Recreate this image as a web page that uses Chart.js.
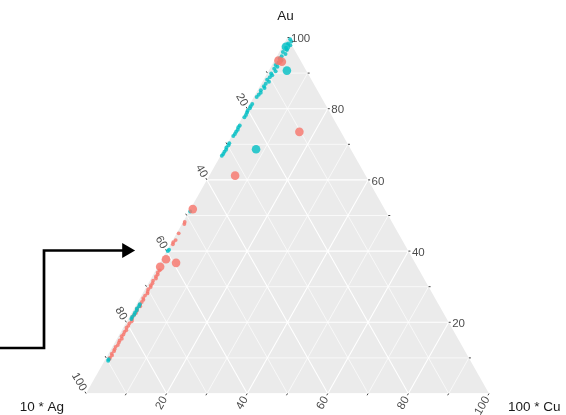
<!DOCTYPE html>
<html>
<head>
<meta charset="utf-8">
<title>Ternary plot Au / Ag / Cu</title>
<script src="https://cdn.jsdelivr.net/npm/chart.js@4.4.1/dist/chart.umd.min.js"></script>
<style>
  html, body { margin: 0; padding: 0; background: #fff; }
  #wrap { width: 566px; height: 415px; position: relative; }
</style>
</head>
<body>
<div id="wrap"><canvas id="tern"></canvas></div>
<script>
// Axis names and tick levels (percent)
const leftTitle = '10 * Ag';
const topTitle = 'Au';
const rightTitle = '100 * Cu';
const gridMajor = [20, 40, 60, 80];
const gridMinor = [10, 30, 50, 70, 90];
const tickLevels = [10, 20, 30, 40, 50, 60, 70, 80, 90, 100];
const labelLevels = [20, 40, 60, 80, 100];

// Group 1 (red) - larger markers, Au and Cu in percent (Ag = rest)
const redAu = [93.5, 93.2, 73.5, 61.2, 51.8, 37.7, 36.7, 35.6];
const redCu = [1.0, 2.0, 16.2, 6.4, 0.6, 1.0, 4.0, 0.6];
// Group 1 - samples lying on the Ag-Au side
const redEdgeAu = [48.2, 47.6, 45.0, 43.1, 42.5, 41.9,
  34.6, 34.0, 33.4, 32.9, 32.3, 31.7, 31.0, 30.4, 29.9, 29.3,
  28.6, 28.1, 27.5, 26.8, 26.3, 25.7, 25.0, 24.5, 23.8, 23.3,
  22.6, 22.1, 21.5, 20.8, 20.3, 19.7, 19.0, 18.5, 17.8, 17.3,
  16.6, 16.1, 15.4, 14.9, 14.3, 13.6, 13.1, 12.4, 11.9, 11.2,
  10.7, 10.1, 9.7];
const redEdgeCu = [0.4, 0.6, 0.5, 0.7, 0.4, 0.6,
  1.0, 0.8, 1.1, 0.9, 1.2, 0.8, 1.0, 0.9, 1.1, 0.8,
  1.0, 1.2, 0.9, 0.8, 1.1, 1.0, 0.9, 1.2, 0.8, 1.0,
  1.1, 0.9, 0.8, 1.0, 1.2, 0.9, 1.0, 0.8, 1.1, 0.9,
  1.0, 0.8, 1.2, 0.9, 1.0, 1.1, 0.8, 0.9, 1.0, 0.8,
  1.1, 0.9, 1.0];

// Group 2 (teal)
const tealAu = [97.4, 90.7, 68.6];
const tealCu = [0.9, 4.5, 7.9];
const tealEdgeAu = [99.5, 98.9, 98.3, 97.8, 97.1, 96.5, 95.9, 95.4, 94.7, 94.1,
  93.6, 92.9, 92.3, 91.8, 91.2, 90.5, 89.9, 89.4, 88.8, 88.1,
  87.6, 87.0, 86.3, 85.8, 85.2, 84.5, 83.9, 83.3,
  81.3, 80.7, 80.1, 79.4, 78.9, 78.2, 77.6,
  75.3, 74.8, 74.1, 73.5, 72.9, 72.3,
  70.3, 69.7, 69.1, 68.5, 67.9, 67.3, 66.8,
  51.1, 40.4, 40.0,
  25.1, 24.5, 23.9, 23.3, 22.7, 22.1, 21.5, 20.9,
  9.6, 9.2];
const tealEdgeCu = [0.9, 1.5, 1.0, 1.8, 1.1, 1.6, 0.9, 1.8, 1.2, 1.0,
  1.7, 1.3, 0.9, 1.6, 1.1, 1.8, 1.0, 1.5, 1.2, 0.9,
  1.6, 1.1, 1.0, 1.4, 0.8, 1.1, 0.9, 0.7,
  0.6, 0.5, 0.6, 0.4, 0.5, 0.6, 0.5,
  0.5, 0.4, 0.6, 0.5, 0.5, 0.4,
  0.4, 0.5, 0.3, 0.5, 0.4, 0.4, 0.3,
  0.3, 0.4, 0.3,
  0.8, 0.9, 0.7, 0.9, 0.8, 0.9, 0.7, 0.8,
  0.8, 0.9];

// Arrow annotation, in plot units (0..1 across the triangle), tip first
const arrowX = [0.0918, -0.1042, -0.1042, -0.2134];
const arrowY = [0.4017, 0.4017, 0.1278, 0.1278];
const arrowHead = { x: 0.1005, y: 0.4017 };

const RED = 'rgba(246, 118, 109, 0.82)';
const TEAL = 'rgba(0, 191, 196, 0.8)';
const GAP = { x: NaN, y: NaN };
const TICK = 0.5;

// ternary composition -> cartesian (Ag bottom-left, Cu bottom-right, Au top)
function toXY(ag, au, cu) {
  const s = ag + au + cu;
  return { x: (cu + au / 2) / s, y: au / s };
}

const toPoints = (au, cu) => au.map((a, i) => toXY(100 - a - cu[i], a, cu[i]));

function gridSegments(levels) {
  const pts = [];
  levels.forEach(k => {
    pts.push(toXY(100 - k, k, 0), toXY(0, k, 100 - k), GAP);  // Au = k
    pts.push(toXY(100 - k, 0, k), toXY(0, 100 - k, k), GAP);  // Cu = k
    pts.push(toXY(k, 0, 100 - k), toXY(k, 100 - k, 0), GAP);  // Ag = k
  });
  return pts;
}

function tickSegments(levels) {
  const pts = [];
  levels.forEach(k => {
    pts.push(toXY(0, k, 100 - k), toXY(-TICK, k, 100 - k + TICK), GAP);
    pts.push(toXY(k, 100 - k, 0), toXY(k, 100 - k + TICK, -TICK), GAP);
    pts.push(toXY(100 - k, 0, k), toXY(100 - k + TICK, -TICK, k), GAP);
  });
  return pts;
}

const lineSet = (data, color, width, order) => ({
  data, showLine: true, borderColor: color, borderWidth: width,
  pointRadius: 0, fill: false, clip: false, order
});

const dotSet = (data, color, radius, order) => ({
  data, showLine: false, backgroundColor: color, borderWidth: 0,
  pointRadius: radius, clip: false, order
});

// Labels and axis titles
const ternLabels = {
  id: 'ternLabels',
  afterDatasetsDraw(chart) {
    const { ctx, scales: { x, y } } = chart;
    const px = (ag, au, cu) => {
      const p = toXY(ag, au, cu);
      return [x.getPixelForValue(p.x), y.getPixelForValue(p.y)];
    };
    ctx.save();
    ctx.fillStyle = '#4D4D4D';
    ctx.font = '11.5px "Liberation Sans", Arial, sans-serif';
    ctx.textBaseline = 'middle';
    labelLevels.forEach(k => {
      let [a, b] = px(0, k, 100 - k);
      ctx.textAlign = 'left';
      ctx.fillText(String(k), a + 3.5, b + 1.5);

      [a, b] = px(k, 100 - k, 0);
      ctx.save();
      ctx.translate(a - 2.2, b - 3.2);
      ctx.rotate(Math.PI / 3);
      ctx.textAlign = 'right';
      ctx.fillText(String(k), 0, 0);
      ctx.restore();

      [a, b] = px(100 - k, 0, k);
      ctx.save();
      ctx.translate(a - 1.8, b + 4);
      ctx.rotate(-Math.PI / 3);
      ctx.textAlign = 'right';
      ctx.fillText(String(k), 0, 0);
      ctx.restore();
    });

    ctx.fillStyle = '#1A1A1A';
    ctx.font = '13.5px "Liberation Sans", Arial, sans-serif';
    let [a, b] = px(0, 100, 0);
    ctx.textAlign = 'center';
    ctx.fillText(topTitle, a - 2, b - 21);
    [a, b] = px(100, 0, 0);
    ctx.textAlign = 'right';
    ctx.fillText(leftTitle, a - 22, b + 14);
    [a, b] = px(0, 0, 100);
    ctx.textAlign = 'left';
    ctx.fillText(rightTitle, a + 19, b + 13.5);
    ctx.restore();
  }
};

new Chart(document.getElementById('tern'), {
  type: 'scatter',
  data: {
    datasets: [
      {
        data: [arrowHead], showLine: false, pointStyle: 'triangle', rotation: 90,
        pointRadius: 8.6, backgroundColor: '#000', borderWidth: 0, clip: false, order: 0
      },
      Object.assign(lineSet(arrowX.map((v, i) => ({ x: v, y: arrowY[i] })), '#000', 2.7, 0),
        { borderJoinStyle: 'miter', borderCapStyle: 'butt' }),
      dotSet(toPoints(tealAu, tealCu), TEAL, 4.3, 1),
      dotSet(toPoints(redAu, redCu), RED, 4.3, 2),
      dotSet(toPoints(tealEdgeAu, tealEdgeCu), TEAL, 2.0, 3),
      dotSet(toPoints(redEdgeAu, redEdgeCu), RED, 1.9, 4),
      lineSet(tickSegments(tickLevels), '#444444', 1, 5),
      lineSet(gridSegments(gridMajor), '#FFFFFF', 1.1, 6),
      lineSet(gridSegments(gridMinor), 'rgba(255,255,255,0.85)', 0.8, 7),
      {
        data: [toXY(100, 0, 0), toXY(0, 100, 0), toXY(0, 0, 100)],
        showLine: true, borderWidth: 0, pointRadius: 0,
        fill: 'origin', backgroundColor: '#EBEBEB', clip: false, order: 8
      }
    ]
  },
  options: {
    responsive: true,
    maintainAspectRatio: false,
    animation: false,
    events: [],
    layout: { padding: { left: 86, right: 77, top: 37.5, bottom: 21.5 } },
    scales: {
      x: { type: 'linear', min: 0, max: 1, display: false },
      y: { type: 'linear', min: 0, max: 1, display: false }
    },
    plugins: {
      legend: { display: false },
      tooltip: { enabled: false }
    }
  },
  plugins: [ternLabels]
});
</script>
</body>
</html>
